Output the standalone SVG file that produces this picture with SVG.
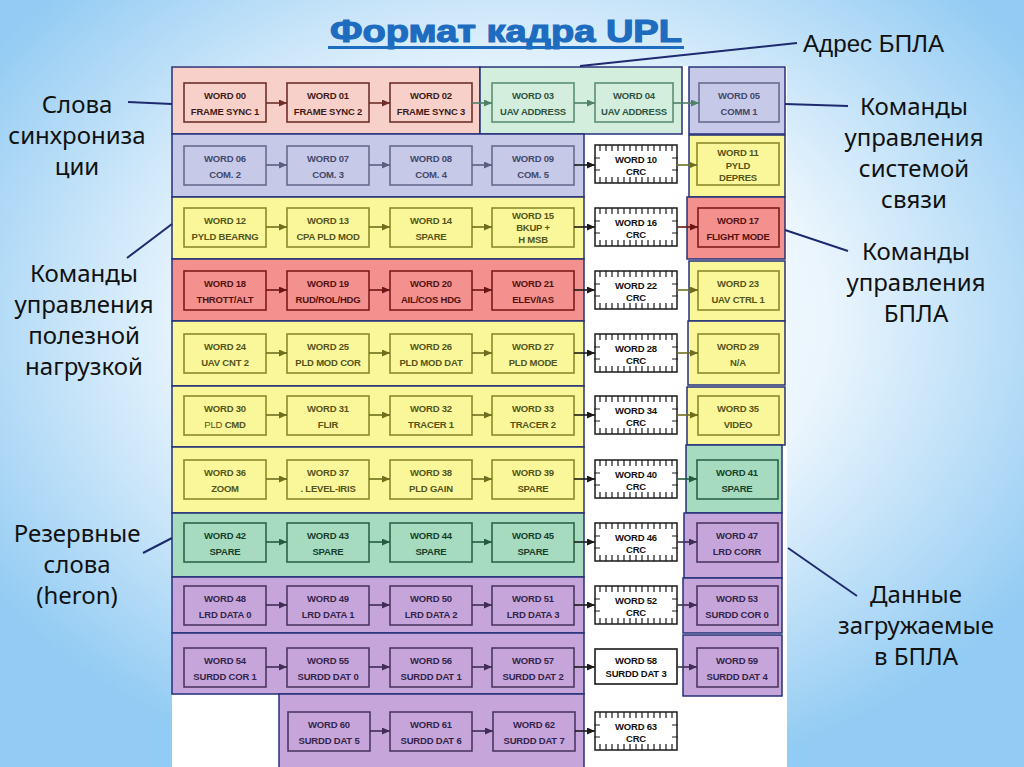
<svg xmlns="http://www.w3.org/2000/svg" xmlns:xlink="http://www.w3.org/1999/xlink" width="1024" height="767" viewBox="0 0 1024 767">
<defs>
<radialGradient id="bg" cx="50%" cy="42%" r="62%">
<stop offset="0" stop-color="#ffffff"/>
<stop offset="0.5" stop-color="#eaf5fd"/>
<stop offset="1" stop-color="#92cbf3"/>
</radialGradient>
<marker id="a-pk" markerWidth="8" markerHeight="7" refX="8" refY="3.5" orient="auto" markerUnits="userSpaceOnUse"><path d="M0,0 L8,3.5 L0,7 z" fill="#6e2f2a"/></marker>
<marker id="a-gl" markerWidth="8" markerHeight="7" refX="8" refY="3.5" orient="auto" markerUnits="userSpaceOnUse"><path d="M0,0 L8,3.5 L0,7 z" fill="#4f8068"/></marker>
<marker id="a-lv" markerWidth="8" markerHeight="7" refX="8" refY="3.5" orient="auto" markerUnits="userSpaceOnUse"><path d="M0,0 L8,3.5 L0,7 z" fill="#5a5f80"/></marker>
<marker id="a-yl" markerWidth="8" markerHeight="7" refX="8" refY="3.5" orient="auto" markerUnits="userSpaceOnUse"><path d="M0,0 L8,3.5 L0,7 z" fill="#6e6e1e"/></marker>
<marker id="a-rd" markerWidth="8" markerHeight="7" refX="8" refY="3.5" orient="auto" markerUnits="userSpaceOnUse"><path d="M0,0 L8,3.5 L0,7 z" fill="#6b1515"/></marker>
<marker id="a-gr" markerWidth="8" markerHeight="7" refX="8" refY="3.5" orient="auto" markerUnits="userSpaceOnUse"><path d="M0,0 L8,3.5 L0,7 z" fill="#245a40"/></marker>
<marker id="a-pu" markerWidth="8" markerHeight="7" refX="8" refY="3.5" orient="auto" markerUnits="userSpaceOnUse"><path d="M0,0 L8,3.5 L0,7 z" fill="#402c55"/></marker>
<marker id="a-bk" markerWidth="8" markerHeight="7" refX="8" refY="3.5" orient="auto" markerUnits="userSpaceOnUse"><path d="M0,0 L8,3.5 L0,7 z" fill="#1a1a1a"/></marker>
<g id="chip">
<rect x="0" y="0" width="82" height="38" fill="#ffffff" stroke="#1a1a1a" stroke-width="1.5"/>
<path d="M5 0v6M11 0v6M17 0v6M23 0v6M29 0v6M35 0v6M41 0v6M47 0v6M53 0v6M59 0v6M65 0v6M71 0v6M77 0v6M5 32v6M11 32v6M17 32v6M23 32v6M29 32v6M35 32v6M41 32v6M47 32v6M53 32v6M59 32v6M65 32v6M71 32v6M77 32v6M-1 13h6M-1 25h6M77 13h6M77 25h6" stroke="#1a1a1a" stroke-width="1.2" fill="none"/>
</g>
</defs>
<style>
.t{font-family:"Liberation Sans",Arial,sans-serif;font-weight:700;font-size:9.5px;text-anchor:middle;letter-spacing:-0.2px}
.lbl{font-family:"Noto Sans","DejaVu Sans",sans-serif;font-size:24px;fill:#111111;text-anchor:middle}
.band{stroke:#25307a;stroke-width:1.5}
.box{stroke-width:1.6}
.ln{stroke:#1e2a6e;stroke-width:2;fill:none}
.a{stroke-width:1.6;fill:none}
.pk .box,.pk.band{fill:#F6D0C9}.pk .box{stroke:#6e2f2a}.pk text{fill:#3e1b18}
.gl .box,.gl.band{fill:#D3EEDD}.gl .box{stroke:#5a8f74}.gl text{fill:#2e5442}
.lv .box,.lv.band{fill:#C6CAE8}.lv .box{stroke:#676c8f}.lv text{fill:#44486a}
.yl .box,.yl.band{fill:#FAF79A}.yl .box{stroke:#8a8a2a}.yl text{fill:#55551a}
.rd .box,.rd.band{fill:#F2918D}.rd .box{stroke:#7b1c1c}.rd text{fill:#541111}
.gr .box,.gr.band{fill:#A6DBBF}.gr .box{stroke:#2c6449}.gr text{fill:#173f2c}
.pu .box,.pu.band{fill:#C6A6DA}.pu .box{stroke:#4c3760}.pu text{fill:#34244a}
.wh .box{fill:#ffffff;stroke:#1a1a1a}.wh text{fill:#111111}
.a.pk{stroke:#6e2f2a}.a.gl{stroke:#4f8068}.a.lv{stroke:#5a5f80}.a.yl{stroke:#6e6e1e}.a.rd{stroke:#6b1515}.a.gr{stroke:#245a40}.a.pu{stroke:#402c55}.a.bk{stroke:#1a1a1a}
</style>
<rect x="0" y="0" width="1024" height="767" fill="url(#bg)"/>
<rect x="172" y="66" width="615" height="701" fill="#ffffff"/>
<g id="title">
<text x="506" y="42" font-family="Liberation Sans, Arial, sans-serif" font-weight="900" font-size="32" fill="#1e6cc0" stroke="#1e6cc0" stroke-width="1.2" text-anchor="middle" textLength="352" lengthAdjust="spacingAndGlyphs">Формат кадра UPL</text>
<rect x="328" y="46" width="356" height="3" fill="#1e6cc0"/>
</g>
<g id="bands">
<rect class="band pk" x="172" y="67" width="308" height="67"/>
<rect class="band gl" x="480" y="67" width="202" height="67"/>
<rect class="band lv" x="689" y="67" width="96" height="67"/>
<rect class="band lv" x="172" y="134" width="412" height="63"/>
<rect class="band yl" x="689" y="135" width="96" height="62"/>
<rect class="band yl" x="172" y="197" width="412" height="62"/>
<rect class="band rd" x="687" y="197" width="98" height="62"/>
<rect class="band rd" x="172" y="259" width="412" height="62"/>
<rect class="band yl" x="689" y="261" width="96" height="60"/>
<rect class="band yl" x="172" y="321" width="412" height="65"/>
<rect class="band yl" x="688" y="321" width="97" height="64"/>
<rect class="band yl" x="172" y="386" width="412" height="61"/>
<rect class="band yl" x="687" y="387" width="98" height="58"/>
<rect class="band yl" x="172" y="447" width="412" height="66"/>
<rect class="band gr" x="686" y="445" width="96" height="68"/>
<rect class="band gr" x="172" y="513" width="412" height="64"/>
<rect class="band pu" x="684" y="513" width="98" height="65"/>
<rect class="band pu" x="172" y="577" width="412" height="56"/>
<rect class="band pu" x="683" y="578" width="99" height="55"/>
<rect class="band pu" x="172" y="633" width="412" height="61"/>
<rect class="band pu" x="683" y="635" width="99" height="61"/>
<rect class="band pu" x="279" y="694" width="305" height="80"/>
</g>
<g id="w00" class="pk"><rect class="box" x="184" y="83" width="82" height="39"/><text class="t" x="225" y="99">WORD 00</text><text class="t" x="225" y="115">FRAME SYNC 1</text></g>
<g id="w01" class="pk"><rect class="box" x="287" y="83" width="82" height="39"/><text class="t" x="328" y="99">WORD 01</text><text class="t" x="328" y="115">FRAME SYNC 2</text></g>
<g id="w02" class="pk"><rect class="box" x="390" y="83" width="82" height="39"/><text class="t" x="431" y="99">WORD 02</text><text class="t" x="431" y="115">FRAME SYNC 3</text></g>
<g id="w03" class="gl"><rect class="box" x="492" y="83" width="82" height="39"/><text class="t" x="533" y="99">WORD 03</text><text class="t" x="533" y="115">UAV ADDRESS</text></g>
<g id="w04" class="gl"><rect class="box" x="595" y="83" width="78" height="39"/><text class="t" x="634" y="99">WORD 04</text><text class="t" x="634" y="115">UAV ADDRESS</text></g>
<g id="w05" class="lv"><rect class="box" x="699" y="83" width="80" height="39"/><text class="t" x="739" y="99">WORD 05</text><text class="t" x="739" y="115">COMM 1</text></g>
<g id="w06" class="lv"><rect class="box" x="184" y="146" width="82" height="39"/><text class="t" x="225" y="162">WORD 06</text><text class="t" x="225" y="178">COM.  2</text></g>
<g id="w07" class="lv"><rect class="box" x="287" y="146" width="82" height="39"/><text class="t" x="328" y="162">WORD 07</text><text class="t" x="328" y="178">COM.  3</text></g>
<g id="w08" class="lv"><rect class="box" x="390" y="146" width="82" height="39"/><text class="t" x="431" y="162">WORD 08</text><text class="t" x="431" y="178">COM.  4</text></g>
<g id="w09" class="lv"><rect class="box" x="492" y="146" width="82" height="39"/><text class="t" x="533" y="162">WORD 09</text><text class="t" x="533" y="178">COM.  5</text></g>
<g id="w10" class="wh"><use href="#chip" x="595" y="145"/><text class="t" x="636" y="163">WORD 10</text><text class="t" x="636" y="175">CRC</text></g>
<g id="w11" class="yl"><rect class="box" x="697" y="143" width="82" height="42"/><text class="t" x="738" y="156">WORD 11</text><text class="t" x="738" y="169">PYLD</text><text class="t" x="738" y="181">DEPRES</text></g>
<g id="w12" class="yl"><rect class="box" x="184" y="208" width="82" height="39"/><text class="t" x="225" y="224">WORD 12</text><text class="t" x="225" y="240">PYLD BEARNG</text></g>
<g id="w13" class="yl"><rect class="box" x="287" y="208" width="82" height="39"/><text class="t" x="328" y="224">WORD 13</text><text class="t" x="328" y="240">CPA PLD MOD</text></g>
<g id="w14" class="yl"><rect class="box" x="390" y="208" width="82" height="39"/><text class="t" x="431" y="224">WORD 14</text><text class="t" x="431" y="240">SPARE</text></g>
<g id="w15" class="yl"><rect class="box" x="492" y="208" width="82" height="39"/><text class="t" x="533" y="219">WORD 15</text><text class="t" x="533" y="231">BKUP +</text><text class="t" x="533" y="243">H MSB</text></g>
<g id="w16" class="wh"><use href="#chip" x="595" y="208"/><text class="t" x="636" y="226">WORD 16</text><text class="t" x="636" y="238">CRC</text></g>
<g id="w17" class="rd"><rect class="box" x="698" y="208" width="81" height="39"/><text class="t" x="738" y="224">WORD 17</text><text class="t" x="738" y="240">FLIGHT MODE</text></g>
<g id="w18" class="rd"><rect class="box" x="184" y="271" width="82" height="39"/><text class="t" x="225" y="287">WORD 18</text><text class="t" x="225" y="303">THROTT/ALT</text></g>
<g id="w19" class="rd"><rect class="box" x="287" y="271" width="82" height="39"/><text class="t" x="328" y="287">WORD 19</text><text class="t" x="328" y="303">RUD/ROL/HDG</text></g>
<g id="w20" class="rd"><rect class="box" x="390" y="271" width="82" height="39"/><text class="t" x="431" y="287">WORD 20</text><text class="t" x="431" y="303">AIL/COS HDG</text></g>
<g id="w21" class="rd"><rect class="box" x="492" y="271" width="82" height="39"/><text class="t" x="533" y="287">WORD 21</text><text class="t" x="533" y="303">ELEV/IAS</text></g>
<g id="w22" class="wh"><use href="#chip" x="595" y="271"/><text class="t" x="636" y="289">WORD 22</text><text class="t" x="636" y="301">CRC</text></g>
<g id="w23" class="yl"><rect class="box" x="698" y="271" width="81" height="39"/><text class="t" x="738" y="287">WORD 23</text><text class="t" x="738" y="303">UAV CTRL 1</text></g>
<g id="w24" class="yl"><rect class="box" x="184" y="334" width="82" height="39"/><text class="t" x="225" y="350">WORD 24</text><text class="t" x="225" y="366">UAV CNT 2</text></g>
<g id="w25" class="yl"><rect class="box" x="287" y="334" width="82" height="39"/><text class="t" x="328" y="350">WORD 25</text><text class="t" x="328" y="366">PLD MOD COR</text></g>
<g id="w26" class="yl"><rect class="box" x="390" y="334" width="82" height="39"/><text class="t" x="431" y="350">WORD 26</text><text class="t" x="431" y="366">PLD MOD DAT</text></g>
<g id="w27" class="yl"><rect class="box" x="492" y="334" width="82" height="39"/><text class="t" x="533" y="350">WORD 27</text><text class="t" x="533" y="366">PLD MODE</text></g>
<g id="w28" class="wh"><use href="#chip" x="595" y="334"/><text class="t" x="636" y="352">WORD 28</text><text class="t" x="636" y="364">CRC</text></g>
<g id="w29" class="yl"><rect class="box" x="698" y="334" width="81" height="39"/><text class="t" x="738" y="350">WORD 29</text><text class="t" x="738" y="366">N/A</text></g>
<g id="w30" class="yl"><rect class="box" x="184" y="396" width="82" height="39"/><text class="t" x="225" y="412">WORD 30</text><text class="t" x="225" y="428"><tspan font-weight="400">PLD</tspan> CMD</text></g>
<g id="w31" class="yl"><rect class="box" x="287" y="396" width="82" height="39"/><text class="t" x="328" y="412">WORD 31</text><text class="t" x="328" y="428">FLIR</text></g>
<g id="w32" class="yl"><rect class="box" x="390" y="396" width="82" height="39"/><text class="t" x="431" y="412">WORD 32</text><text class="t" x="431" y="428">TRACER 1</text></g>
<g id="w33" class="yl"><rect class="box" x="492" y="396" width="82" height="39"/><text class="t" x="533" y="412">WORD 33</text><text class="t" x="533" y="428">TRACER 2</text></g>
<g id="w34" class="wh"><use href="#chip" x="595" y="396"/><text class="t" x="636" y="414">WORD 34</text><text class="t" x="636" y="426">CRC</text></g>
<g id="w35" class="yl"><rect class="box" x="698" y="396" width="81" height="39"/><text class="t" x="738" y="412">WORD 35</text><text class="t" x="738" y="428">VIDEO</text></g>
<g id="w36" class="yl"><rect class="box" x="184" y="460" width="82" height="39"/><text class="t" x="225" y="476">WORD 36</text><text class="t" x="225" y="492">ZOOM</text></g>
<g id="w37" class="yl"><rect class="box" x="287" y="460" width="82" height="39"/><text class="t" x="328" y="476">WORD 37</text><text class="t" x="328" y="492">. LEVEL-IRIS</text></g>
<g id="w38" class="yl"><rect class="box" x="390" y="460" width="82" height="39"/><text class="t" x="431" y="476">WORD 38</text><text class="t" x="431" y="492">PLD GAIN</text></g>
<g id="w39" class="yl"><rect class="box" x="492" y="460" width="82" height="39"/><text class="t" x="533" y="476">WORD 39</text><text class="t" x="533" y="492">SPARE</text></g>
<g id="w40" class="wh"><use href="#chip" x="595" y="460"/><text class="t" x="636" y="478">WORD 40</text><text class="t" x="636" y="490">CRC</text></g>
<g id="w41" class="gr"><rect class="box" x="697" y="460" width="81" height="39"/><text class="t" x="737" y="476">WORD 41</text><text class="t" x="737" y="492">SPARE</text></g>
<g id="w42" class="gr"><rect class="box" x="184" y="523" width="82" height="39"/><text class="t" x="225" y="539">WORD 42</text><text class="t" x="225" y="555">SPARE</text></g>
<g id="w43" class="gr"><rect class="box" x="287" y="523" width="82" height="39"/><text class="t" x="328" y="539">WORD 43</text><text class="t" x="328" y="555">SPARE</text></g>
<g id="w44" class="gr"><rect class="box" x="390" y="523" width="82" height="39"/><text class="t" x="431" y="539">WORD 44</text><text class="t" x="431" y="555">SPARE</text></g>
<g id="w45" class="gr"><rect class="box" x="492" y="523" width="82" height="39"/><text class="t" x="533" y="539">WORD 45</text><text class="t" x="533" y="555">SPARE</text></g>
<g id="w46" class="wh"><use href="#chip" x="595" y="523"/><text class="t" x="636" y="541">WORD 46</text><text class="t" x="636" y="553">CRC</text></g>
<g id="w47" class="pu"><rect class="box" x="697" y="523" width="81" height="39"/><text class="t" x="737" y="539">WORD 47</text><text class="t" x="737" y="555">LRD CORR</text></g>
<g id="w48" class="pu"><rect class="box" x="184" y="586" width="82" height="39"/><text class="t" x="225" y="602">WORD 48</text><text class="t" x="225" y="618">LRD DATA 0</text></g>
<g id="w49" class="pu"><rect class="box" x="287" y="586" width="82" height="39"/><text class="t" x="328" y="602">WORD 49</text><text class="t" x="328" y="618">LRD DATA 1</text></g>
<g id="w50" class="pu"><rect class="box" x="390" y="586" width="82" height="39"/><text class="t" x="431" y="602">WORD 50</text><text class="t" x="431" y="618">LRD DATA 2</text></g>
<g id="w51" class="pu"><rect class="box" x="492" y="586" width="82" height="39"/><text class="t" x="533" y="602">WORD 51</text><text class="t" x="533" y="618">LRD DATA 3</text></g>
<g id="w52" class="wh"><use href="#chip" x="595" y="586"/><text class="t" x="636" y="604">WORD 52</text><text class="t" x="636" y="616">CRC</text></g>
<g id="w53" class="pu"><rect class="box" x="697" y="586" width="81" height="39"/><text class="t" x="737" y="602">WORD 53</text><text class="t" x="737" y="618">SURDD COR 0</text></g>
<g id="w54" class="pu"><rect class="box" x="184" y="648" width="82" height="39"/><text class="t" x="225" y="664">WORD 54</text><text class="t" x="225" y="680">SURDD COR 1</text></g>
<g id="w55" class="pu"><rect class="box" x="287" y="648" width="82" height="39"/><text class="t" x="328" y="664">WORD 55</text><text class="t" x="328" y="680">SURDD DAT 0</text></g>
<g id="w56" class="pu"><rect class="box" x="390" y="648" width="82" height="39"/><text class="t" x="431" y="664">WORD 56</text><text class="t" x="431" y="680">SURDD DAT 1</text></g>
<g id="w57" class="pu"><rect class="box" x="492" y="648" width="82" height="39"/><text class="t" x="533" y="664">WORD 57</text><text class="t" x="533" y="680">SURDD DAT 2</text></g>
<g id="w58" class="wh"><rect class="box" x="595" y="649" width="82" height="35"/><text class="t" x="636" y="664">WORD 58</text><text class="t" x="636" y="677">SURDD DAT 3</text></g>
<g id="w59" class="pu"><rect class="box" x="697" y="648" width="81" height="39"/><text class="t" x="737" y="664">WORD 59</text><text class="t" x="737" y="680">SURDD DAT 4</text></g>
<g id="w60" class="pu"><rect class="box" x="288" y="712" width="82" height="39"/><text class="t" x="329" y="728">WORD 60</text><text class="t" x="329" y="744">SURDD DAT 5</text></g>
<g id="w61" class="pu"><rect class="box" x="390" y="712" width="82" height="39"/><text class="t" x="431" y="728">WORD 61</text><text class="t" x="431" y="744">SURDD DAT 6</text></g>
<g id="w62" class="pu"><rect class="box" x="493" y="712" width="82" height="39"/><text class="t" x="534" y="728">WORD 62</text><text class="t" x="534" y="744">SURDD DAT 7</text></g>
<g id="w63" class="wh"><use href="#chip" x="595" y="712"/><text class="t" x="636" y="730">WORD 63</text><text class="t" x="636" y="742">CRC</text></g>
<g id="connectors">
<line class="a pk" x1="266" y1="103" x2="287" y2="103" marker-end="url(#a-pk)"/>
<line class="a pk" x1="369" y1="103" x2="390" y2="103" marker-end="url(#a-pk)"/>
<line class="a gl" x1="472" y1="103" x2="492" y2="103" marker-end="url(#a-gl)"/>
<line class="a gl" x1="574" y1="103" x2="595" y2="103" marker-end="url(#a-gl)"/>
<line class="a gl" x1="673" y1="103" x2="699" y2="103" marker-end="url(#a-gl)"/>
<line class="a lv" x1="266" y1="165" x2="287" y2="165" marker-end="url(#a-lv)"/>
<line class="a lv" x1="369" y1="165" x2="390" y2="165" marker-end="url(#a-lv)"/>
<line class="a lv" x1="472" y1="165" x2="492" y2="165" marker-end="url(#a-lv)"/>
<line class="a bk" x1="574" y1="165" x2="595" y2="165" marker-end="url(#a-bk)"/>
<line class="a yl" x1="677" y1="165" x2="697" y2="165" marker-end="url(#a-yl)"/>
<line class="a yl" x1="266" y1="227" x2="287" y2="227" marker-end="url(#a-yl)"/>
<line class="a yl" x1="369" y1="227" x2="390" y2="227" marker-end="url(#a-yl)"/>
<line class="a yl" x1="472" y1="227" x2="492" y2="227" marker-end="url(#a-yl)"/>
<line class="a bk" x1="574" y1="227" x2="595" y2="227" marker-end="url(#a-bk)"/>
<line class="a rd" x1="677" y1="227" x2="698" y2="227" marker-end="url(#a-rd)"/>
<line class="a rd" x1="266" y1="290" x2="287" y2="290" marker-end="url(#a-rd)"/>
<line class="a rd" x1="369" y1="290" x2="390" y2="290" marker-end="url(#a-rd)"/>
<line class="a rd" x1="472" y1="290" x2="492" y2="290" marker-end="url(#a-rd)"/>
<line class="a bk" x1="574" y1="290" x2="595" y2="290" marker-end="url(#a-bk)"/>
<line class="a yl" x1="677" y1="290" x2="698" y2="290" marker-end="url(#a-yl)"/>
<line class="a yl" x1="266" y1="353" x2="287" y2="353" marker-end="url(#a-yl)"/>
<line class="a yl" x1="369" y1="353" x2="390" y2="353" marker-end="url(#a-yl)"/>
<line class="a yl" x1="472" y1="353" x2="492" y2="353" marker-end="url(#a-yl)"/>
<line class="a bk" x1="574" y1="353" x2="595" y2="353" marker-end="url(#a-bk)"/>
<line class="a yl" x1="677" y1="353" x2="698" y2="353" marker-end="url(#a-yl)"/>
<line class="a yl" x1="266" y1="415" x2="287" y2="415" marker-end="url(#a-yl)"/>
<line class="a yl" x1="369" y1="415" x2="390" y2="415" marker-end="url(#a-yl)"/>
<line class="a yl" x1="472" y1="415" x2="492" y2="415" marker-end="url(#a-yl)"/>
<line class="a bk" x1="574" y1="415" x2="595" y2="415" marker-end="url(#a-bk)"/>
<line class="a yl" x1="677" y1="415" x2="698" y2="415" marker-end="url(#a-yl)"/>
<line class="a yl" x1="266" y1="479" x2="287" y2="479" marker-end="url(#a-yl)"/>
<line class="a yl" x1="369" y1="479" x2="390" y2="479" marker-end="url(#a-yl)"/>
<line class="a yl" x1="472" y1="479" x2="492" y2="479" marker-end="url(#a-yl)"/>
<line class="a bk" x1="574" y1="479" x2="595" y2="479" marker-end="url(#a-bk)"/>
<line class="a gr" x1="677" y1="479" x2="697" y2="479" marker-end="url(#a-gr)"/>
<line class="a gr" x1="266" y1="542" x2="287" y2="542" marker-end="url(#a-gr)"/>
<line class="a gr" x1="369" y1="542" x2="390" y2="542" marker-end="url(#a-gr)"/>
<line class="a gr" x1="472" y1="542" x2="492" y2="542" marker-end="url(#a-gr)"/>
<line class="a bk" x1="574" y1="542" x2="595" y2="542" marker-end="url(#a-bk)"/>
<line class="a pu" x1="677" y1="542" x2="697" y2="542" marker-end="url(#a-pu)"/>
<line class="a pu" x1="266" y1="605" x2="287" y2="605" marker-end="url(#a-pu)"/>
<line class="a pu" x1="369" y1="605" x2="390" y2="605" marker-end="url(#a-pu)"/>
<line class="a pu" x1="472" y1="605" x2="492" y2="605" marker-end="url(#a-pu)"/>
<line class="a bk" x1="574" y1="605" x2="595" y2="605" marker-end="url(#a-bk)"/>
<line class="a pu" x1="677" y1="605" x2="697" y2="605" marker-end="url(#a-pu)"/>
<line class="a pu" x1="266" y1="667" x2="287" y2="667" marker-end="url(#a-pu)"/>
<line class="a pu" x1="369" y1="667" x2="390" y2="667" marker-end="url(#a-pu)"/>
<line class="a pu" x1="472" y1="667" x2="492" y2="667" marker-end="url(#a-pu)"/>
<line class="a bk" x1="574" y1="667" x2="595" y2="667" marker-end="url(#a-bk)"/>
<line class="a pu" x1="677" y1="667" x2="697" y2="667" marker-end="url(#a-pu)"/>
<line class="a pu" x1="370" y1="731" x2="390" y2="731" marker-end="url(#a-pu)"/>
<line class="a pu" x1="472" y1="731" x2="493" y2="731" marker-end="url(#a-pu)"/>
<line class="a bk" x1="575" y1="731" x2="595" y2="731" marker-end="url(#a-bk)"/>
</g>
<g id="callouts">
<line class="ln" x1="797" y1="43" x2="580" y2="66"/>
<line class="ln" x1="128" y1="102" x2="172" y2="104"/>
<line class="ln" x1="127" y1="258" x2="172" y2="224"/>
<line class="ln" x1="143" y1="553" x2="172" y2="538"/>
<line class="ln" x1="785" y1="104" x2="848" y2="106"/>
<line class="ln" x1="785" y1="230" x2="848" y2="251"/>
<line class="ln" x1="788" y1="548" x2="857" y2="596"/>
</g>
<g id="labels">
<text x="803" y="52" font-family="Liberation Sans, Arial, sans-serif" font-size="23" fill="#111111" textLength="141" lengthAdjust="spacingAndGlyphs">Адрес БПЛА</text>
<text class="lbl" x="77" y="113">Слова</text>
<text class="lbl" x="77" y="144">синхрониза</text>
<text class="lbl" x="77" y="175">ции</text>
<text class="lbl" x="84" y="282">Команды</text>
<text class="lbl" x="84" y="313">управления</text>
<text class="lbl" x="84" y="344">полезной</text>
<text class="lbl" x="84" y="375">нагрузкой</text>
<text class="lbl" x="77" y="542">Резервные</text>
<text class="lbl" x="77" y="573">слова</text>
<text class="lbl" x="77" y="604">(heron)</text>
<text class="lbl" x="914" y="115">Команды</text>
<text class="lbl" x="914" y="146">управления</text>
<text class="lbl" x="914" y="177">системой</text>
<text class="lbl" x="914" y="208">связи</text>
<text class="lbl" x="916" y="260">Команды</text>
<text class="lbl" x="916" y="291">управления</text>
<text class="lbl" x="916" y="322">БПЛА</text>
<text class="lbl" x="916" y="603">Данные</text>
<text class="lbl" x="916" y="634">загружаемые</text>
<text class="lbl" x="916" y="665">в БПЛА</text>
</g>
</svg>
